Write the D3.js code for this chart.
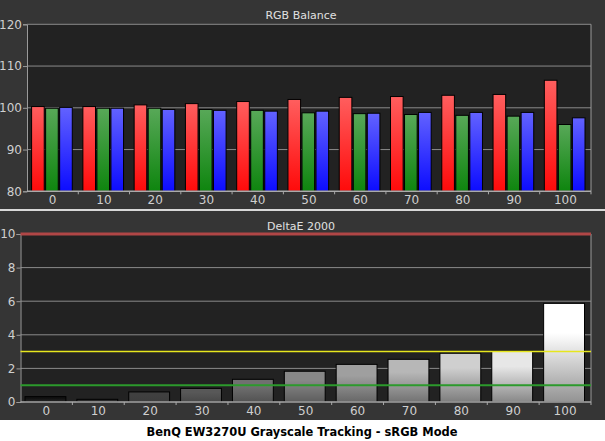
<!DOCTYPE html>
<html>
<head>
<meta charset="utf-8">
<script src="https://cdn.jsdelivr.net/npm/d3@7"></script>
<style>
  body { margin: 0; background: #fff; }
  svg text { font-family: "DejaVu Sans", Tahoma, sans-serif; }
</style>
</head>
<body>
<div id="chart"></div>
<script>
// Stimulus levels (% gray)
var levels = [0, 10, 20, 30, 40, 50, 60, 70, 80, 90, 100];

// RGB balance values (%)
var redVals   = [100.3, 100.3, 100.7, 101.0, 101.5, 102.0, 102.5, 102.7, 103.0, 103.2, 106.6];
var greenVals = [99.9, 99.9, 99.9, 99.6, 99.4, 98.8, 98.6, 98.4, 98.2, 98.0, 96.0];
var blueVals  = [100.1, 99.9, 99.6, 99.4, 99.2, 99.2, 98.7, 98.9, 98.9, 98.9, 97.6];

// DeltaE 2000 per level
var deltaE = [0.32, 0.16, 0.6, 0.81, 1.35, 1.83, 2.24, 2.54, 2.9, 3.02, 5.87];

var rgbTicks = [80, 90, 100, 110, 120];
var deTicks = [0, 2, 4, 6, 8, 10];
var refLines = [
  {v: 10, color: "#b04646", width: 3},
  {v: 3, color: "#e6e61e", width: 1.5},
  {v: 1, color: "#2c9a2c", width: 2}
];

var w = 605, h = 441;

var svg = d3.select("#chart").append("svg")
  .attr("width", w)
  .attr("height", h);

var defs = svg.append("defs");

function vGrad(id, topColor, bottomColor, mid) {
  var g = defs.append("linearGradient")
    .attr("id", id)
    .attr("x1", 0).attr("y1", 0).attr("x2", 0).attr("y2", 1);
  g.append("stop").attr("offset", 0).attr("stop-color", topColor);
  if (mid != null) g.append("stop").attr("offset", mid).attr("stop-color", topColor);
  g.append("stop").attr("offset", 1).attr("stop-color", bottomColor);
}
vGrad("gr-r", "#ff5e5e", "#ff0a0a");
vGrad("gr-g", "#58a858", "#0e850e");
vGrad("gr-b", "#6262ff", "#0c0cff");

var grayScale = d3.scaleLinear().domain([0, 100]).range(["#101010", "#ffffff"]);
levels.forEach(function(l, i) {
  var c = grayScale(l);
  vGrad("gr-k" + i, c, d3.interpolateRgb(c, "#3a3a3a")(0.55), 0.3);
});

// panels
svg.append("rect").attr("x", 0).attr("y", 0).attr("width", w).attr("height", 209).attr("fill", "#353535");
svg.append("rect").attr("x", 0).attr("y", 209).attr("width", w).attr("height", 2).attr("fill", "#d8d8d8");
svg.append("rect").attr("x", 0).attr("y", 211).attr("width", w).attr("height", 209).attr("fill", "#353535");

// ---------- RGB Balance ----------
var x1 = d3.scaleBand().domain(levels).range([27, 591]);
var y1 = d3.scaleLinear().domain([80, 120]).range([191.3, 24.3]);
var series = d3.scaleBand().domain(["r", "g", "b"])
  .range([4.6, x1.bandwidth() - 6]).paddingInner(0.1);

var topG = svg.append("g");
topG.append("rect").attr("x", 27).attr("y", y1(120)).attr("width", 564).attr("height", y1(80) - y1(120)).attr("fill", "#222");

topG.selectAll(".grid").data(rgbTicks.slice(1)).join("line")
  .attr("x1", 27).attr("x2", 591)
  .attr("y1", function(d) { return y1(d); }).attr("y2", function(d) { return y1(d); })
  .attr("stroke", "#8a8a8a").attr("stroke-width", 1);

var rgbData = [];
levels.forEach(function(l, i) {
  rgbData.push({l: l, s: "r", v: redVals[i]});
  rgbData.push({l: l, s: "g", v: greenVals[i]});
  rgbData.push({l: l, s: "b", v: blueVals[i]});
});

topG.selectAll(".bar").data(rgbData).join("rect")
  .attr("x", function(d) { return x1(d.l) + series(d.s); })
  .attr("y", function(d) { return y1(d.v); })
  .attr("width", series.bandwidth())
  .attr("height", function(d) { return y1(80) - y1(d.v); })
  .attr("fill", function(d) { return "url(#gr-" + d.s + ")"; })
  .attr("stroke", "#000").attr("stroke-width", 1);

// axes
var ya1 = d3.axisLeft(y1).tickValues(rgbTicks).tickSize(4).tickPadding(1);
topG.append("g").attr("transform", "translate(27,0)").call(ya1)
  .call(function(g) {
    g.select(".domain").attr("stroke", "#9a9a9a");
    g.selectAll(".tick line").attr("stroke", "#9a9a9a");
    g.selectAll("text").attr("fill", "#cfcfcf").attr("font-size", 12).attr("font-family", "DejaVu Sans");
  });
topG.append("line").attr("x1", 591).attr("x2", 591).attr("y1", y1(120)).attr("y2", y1(80)).attr("stroke", "#9a9a9a");
topG.append("line").attr("x1", 27).attr("x2", 591).attr("y1", y1(80)).attr("y2", y1(80)).attr("stroke", "#aaa").attr("stroke-width", 1.5);

topG.selectAll(".xt").data(levels).join("line")
  .attr("x1", function(d) { return x1(d) + x1.bandwidth(); })
  .attr("x2", function(d) { return x1(d) + x1.bandwidth(); })
  .attr("y1", y1(80)).attr("y2", y1(80) + 3)
  .attr("stroke", "#aaa");
topG.selectAll(".xl").data(levels).join("text")
  .attr("x", function(d) { return x1(d) + x1.bandwidth() / 2; })
  .attr("y", 204)
  .attr("text-anchor", "middle")
  .attr("fill", "#cfcfcf").attr("font-size", 12)
  .text(function(d) { return d; });

topG.append("text").attr("x", 301).attr("y", 19).attr("text-anchor", "middle")
  .attr("fill", "#e0e0e0").attr("font-size", 11).text("RGB Balance");

// ---------- DeltaE 2000 ----------
var x2 = d3.scaleBand().domain(levels).range([20.5, 591]);
var y2 = d3.scaleLinear().domain([0, 10]).range([402, 234]);

var botG = svg.append("g");
botG.append("rect").attr("x", 20.5).attr("y", y2(10)).attr("width", 570.5).attr("height", y2(0) - y2(10)).attr("fill", "#222");

botG.selectAll(".grid").data(deTicks.slice(1, -1)).join("line")
  .attr("x1", 20.5).attr("x2", 591)
  .attr("y1", function(d) { return y2(d); }).attr("y2", function(d) { return y2(d); })
  .attr("stroke", "#8a8a8a").attr("stroke-width", 1);

botG.selectAll(".bar").data(deltaE).join("rect")
  .attr("x", function(d, i) { return x2(levels[i]) + 4.5; })
  .attr("y", function(d) { return y2(d); })
  .attr("width", x2.bandwidth() - 11)
  .attr("height", function(d) { return y2(0) - y2(d); })
  .attr("fill", function(d, i) { return "url(#gr-k" + i + ")"; })
  .attr("stroke", "#000").attr("stroke-width", 1);

var ya2 = d3.axisLeft(y2).tickValues(deTicks).tickSize(4).tickPadding(1);
botG.append("g").attr("transform", "translate(20.5,0)").call(ya2)
  .call(function(g) {
    g.select(".domain").attr("stroke", "#9a9a9a");
    g.selectAll(".tick line").attr("stroke", "#9a9a9a");
    g.selectAll("text").attr("fill", "#cfcfcf").attr("font-size", 12).attr("font-family", "DejaVu Sans");
  });
botG.append("line").attr("x1", 591).attr("x2", 591).attr("y1", y2(10)).attr("y2", y2(0)).attr("stroke", "#9a9a9a");
botG.append("line").attr("x1", 20.5).attr("x2", 591).attr("y1", y2(0)).attr("y2", y2(0)).attr("stroke", "#aaa").attr("stroke-width", 1.5);

botG.selectAll(".ref").data(refLines).join("line")
  .attr("x1", 20.5).attr("x2", 591)
  .attr("y1", function(d) { return y2(d.v); }).attr("y2", function(d) { return y2(d.v); })
  .attr("stroke", function(d) { return d.color; })
  .attr("stroke-width", function(d) { return d.width; });

botG.selectAll(".xt").data(levels).join("line")
  .attr("x1", function(d) { return x2(d) + x2.bandwidth(); })
  .attr("x2", function(d) { return x2(d) + x2.bandwidth(); })
  .attr("y1", y2(0)).attr("y2", y2(0) + 3)
  .attr("stroke", "#aaa");
botG.selectAll(".xl").data(levels).join("text")
  .attr("x", function(d) { return x2(d) + x2.bandwidth() / 2; })
  .attr("y", 415)
  .attr("text-anchor", "middle")
  .attr("fill", "#cfcfcf").attr("font-size", 12)
  .text(function(d) { return d; });

botG.append("text").attr("x", 301).attr("y", 230).attr("text-anchor", "middle")
  .attr("fill", "#e0e0e0").attr("font-size", 11).text("DeltaE 2000");

// caption
svg.append("text").attr("x", 302).attr("y", 436).attr("text-anchor", "middle")
  .attr("fill", "#000").attr("font-size", 13).attr("font-weight", "bold")
  .attr("font-family", "DejaVu Sans Condensed, DejaVu Sans")
  .attr("textLength", 311).attr("lengthAdjust", "spacingAndGlyphs")
  .text("BenQ EW3270U Grayscale Tracking - sRGB Mode");
</script>
</body>
</html>
